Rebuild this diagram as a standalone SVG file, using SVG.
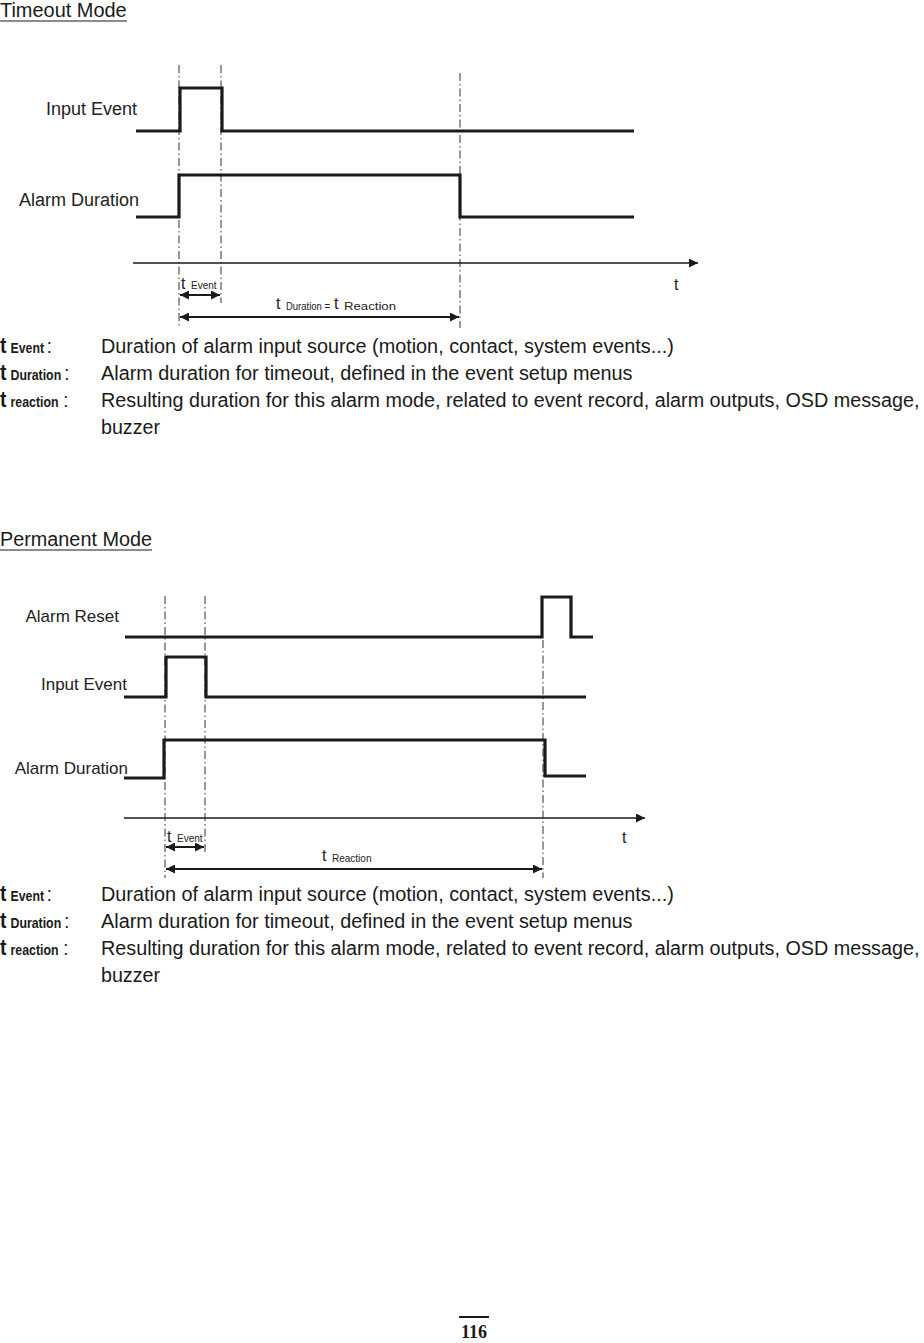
<svg xmlns="http://www.w3.org/2000/svg" width="924" height="1343" viewBox="0 0 924 1343">
<style>
.bg{fill:#fff}
.sig{fill:none;stroke:#1a1a1a;stroke-width:3.2;stroke-linejoin:miter;stroke-linecap:butt}
.axis{fill:none;stroke:#1a1a1a;stroke-width:1.3}
.dd{fill:none;stroke:#444;stroke-width:1.1;stroke-dasharray:8 3 1.5 3}
.dim{fill:none;stroke:#1a1a1a;stroke-width:1.8}
.lbl{font-family:"Liberation Sans",Arial,sans-serif;font-size:18px;fill:#222}
.lbl2{font-family:"Liberation Sans",Arial,sans-serif;font-size:17px;fill:#222}
.tt{font-family:"Liberation Sans",Arial,sans-serif;font-size:16px;fill:#222}
.ts{font-family:"Liberation Sans",Arial,sans-serif;font-size:10px;fill:#222}
.cond{font-family:"Liberation Sans",Arial,sans-serif;font-size:21px;fill:#1a1a1a}
.tb{font-family:"Liberation Sans",Arial,sans-serif;font-size:22px;font-weight:bold;fill:#1a1a1a}
.sb{font-family:"Liberation Sans",Arial,sans-serif;font-size:14px;font-weight:bold;fill:#1a1a1a}
.ul{stroke:#1a1a1a;stroke-width:1.2}
.pg{font-family:"Liberation Serif","Times New Roman",serif;font-size:18px;font-weight:bold;fill:#1a1a1a}
</style>
<defs>
<marker id="ah" viewBox="0 0 10 10" refX="10" refY="5" markerWidth="12" markerHeight="9" markerUnits="userSpaceOnUse" orient="auto-start-reverse">
<path d="M0,0 L10,5 L0,10 Z" fill="#1a1a1a"/>
</marker>
<marker id="ax" viewBox="0 0 10 10" refX="10" refY="5" markerWidth="16" markerHeight="9" markerUnits="userSpaceOnUse" orient="auto">
<path d="M0,0 L10,5 L0,10 Z" fill="#1a1a1a"/>
</marker>
</defs>
<rect class="bg" x="0" y="0" width="924" height="1343"/>

<!-- Timeout Mode -->
<g id="title-timeout">
<g transform="translate(0,17) scale(0.88,1)"><text class="cond" x="0" y="0" textLength="144" lengthAdjust="spacingAndGlyphs">Timeout Mode</text></g>
<line class="ul" x1="0" y1="21" x2="127" y2="21"/>
</g>

<g id="timeout-labels">
<text class="lbl" x="137" y="115" text-anchor="end">Input Event</text>
<text class="lbl" x="139" y="206" text-anchor="end">Alarm Duration</text>
</g>

<g id="timeout-guides">
<line class="dd" x1="179" y1="65" x2="179" y2="328"/>
<line class="dd" x1="221" y1="65" x2="221" y2="303"/>
<line class="dd" x1="460" y1="73" x2="460" y2="328"/>
</g>

<g id="timeout-input-event">
<path class="sig" d="M136,131 H180 V88 H222 V131 H634"/>
</g>
<g id="timeout-alarm-duration">
<path class="sig" d="M136,217 H179 V175 H460 V217 H634"/>
</g>

<g id="timeout-axis">
<line class="axis" x1="133" y1="263" x2="698" y2="263" marker-end="url(#ax)"/>
<text class="tt" x="674" y="290">t</text>
</g>

<g id="timeout-dimensions">
<line class="dim" x1="180" y1="295" x2="220" y2="295" marker-start="url(#ah)" marker-end="url(#ah)"/>
<text class="tt" x="181" y="289">t</text>
<text class="ts" x="191" y="289">Event</text>
<line class="dim" x1="180" y1="317" x2="459" y2="317" marker-start="url(#ah)" marker-end="url(#ah)"/>
<text class="tt" x="276" y="309">t</text>
<text class="ts" x="286" y="310" textLength="44" lengthAdjust="spacingAndGlyphs">Duration =</text>
<text class="tt" x="334" y="309">t</text>
<text class="ts" x="344" y="310" textLength="52" lengthAdjust="spacingAndGlyphs">Reaction</text>
</g>

<g id="timeout-definitions">
<g transform="translate(0,353) scale(0.88,1)"><text class="tb" x="0" y="0">t</text><text class="sb" x="12" y="0">Event</text><text class="cond" x="53" y="0">:</text>
<text class="cond" x="114.8" y="0" textLength="651" lengthAdjust="spacingAndGlyphs">Duration of alarm input source (motion, contact, system events...)</text></g>
<g transform="translate(0,380) scale(0.88,1)"><text class="tb" x="0" y="0">t</text><text class="sb" x="12" y="0">Duration</text><text class="cond" x="73" y="0">:</text>
<text class="cond" x="114.8" y="0" textLength="604" lengthAdjust="spacingAndGlyphs">Alarm duration for timeout, defined in the event setup menus</text></g>
<g transform="translate(0,407) scale(0.88,1)"><text class="tb" x="0" y="0">t</text><text class="sb" x="12" y="0">reaction</text><text class="cond" x="72" y="0">:</text>
<text class="cond" x="114.8" y="0" textLength="930" lengthAdjust="spacingAndGlyphs">Resulting duration for this alarm mode, related to event record, alarm outputs, OSD message,</text></g>
<g transform="translate(0,434) scale(0.88,1)"><text class="cond" x="114.8" y="0" textLength="67" lengthAdjust="spacingAndGlyphs">buzzer</text></g>
</g>

<!-- Permanent Mode -->
<g id="title-permanent">
<g transform="translate(0,546) scale(0.88,1)"><text class="cond" x="0" y="0" textLength="172.7" lengthAdjust="spacingAndGlyphs">Permanent Mode</text></g>
<line class="ul" x1="0" y1="550" x2="152" y2="550"/>
</g>

<g id="permanent-labels">
<text class="lbl2" x="119" y="622" text-anchor="end">Alarm Reset</text>
<text class="lbl2" x="127" y="690" text-anchor="end">Input Event</text>
<text class="lbl2" x="128" y="774" text-anchor="end">Alarm Duration</text>
</g>

<g id="permanent-guides">
<line class="dd" x1="165" y1="596" x2="165" y2="878"/>
<line class="dd" x1="205" y1="596" x2="205" y2="855"/>
<line class="dd" x1="543" y1="640" x2="543" y2="878"/>
</g>

<g id="permanent-alarm-reset">
<path class="sig" d="M125,637 H542 V597 H571 V637 H593"/>
</g>
<g id="permanent-input-event">
<path class="sig" d="M124,697 H166 V657 H206 V697 H586"/>
</g>
<g id="permanent-alarm-duration">
<path class="sig" d="M124,778 H164 V740 H545 V776 H586"/>
</g>

<g id="permanent-axis">
<line class="axis" x1="124" y1="818" x2="645" y2="818" marker-end="url(#ax)"/>
<text class="tt" x="622" y="843">t</text>
</g>

<g id="permanent-dimensions">
<line class="dim" x1="166" y1="847" x2="204" y2="847" marker-start="url(#ah)" marker-end="url(#ah)"/>
<text class="tt" x="167" y="842">t</text>
<text class="ts" x="177" y="842">Event</text>
<line class="dim" x1="166" y1="869" x2="542" y2="869" marker-start="url(#ah)" marker-end="url(#ah)"/>
<text class="tt" x="322" y="861">t</text>
<text class="ts" x="332" y="862">Reaction</text>
</g>

<g id="permanent-definitions">
<g transform="translate(0,901) scale(0.88,1)"><text class="tb" x="0" y="0">t</text><text class="sb" x="12" y="0">Event</text><text class="cond" x="53" y="0">:</text>
<text class="cond" x="114.8" y="0" textLength="651" lengthAdjust="spacingAndGlyphs">Duration of alarm input source (motion, contact, system events...)</text></g>
<g transform="translate(0,928) scale(0.88,1)"><text class="tb" x="0" y="0">t</text><text class="sb" x="12" y="0">Duration</text><text class="cond" x="73" y="0">:</text>
<text class="cond" x="114.8" y="0" textLength="604" lengthAdjust="spacingAndGlyphs">Alarm duration for timeout, defined in the event setup menus</text></g>
<g transform="translate(0,955) scale(0.88,1)"><text class="tb" x="0" y="0">t</text><text class="sb" x="12" y="0">reaction</text><text class="cond" x="72" y="0">:</text>
<text class="cond" x="114.8" y="0" textLength="930" lengthAdjust="spacingAndGlyphs">Resulting duration for this alarm mode, related to event record, alarm outputs, OSD message,</text></g>
<g transform="translate(0,982) scale(0.88,1)"><text class="cond" x="114.8" y="0" textLength="67" lengthAdjust="spacingAndGlyphs">buzzer</text></g>
</g>

<g id="page-number">
<line x1="459" y1="1317" x2="489" y2="1317" stroke="#1a1a1a" stroke-width="2"/>
<text class="pg" x="474" y="1338" text-anchor="middle">116</text>
</g>
</svg>
